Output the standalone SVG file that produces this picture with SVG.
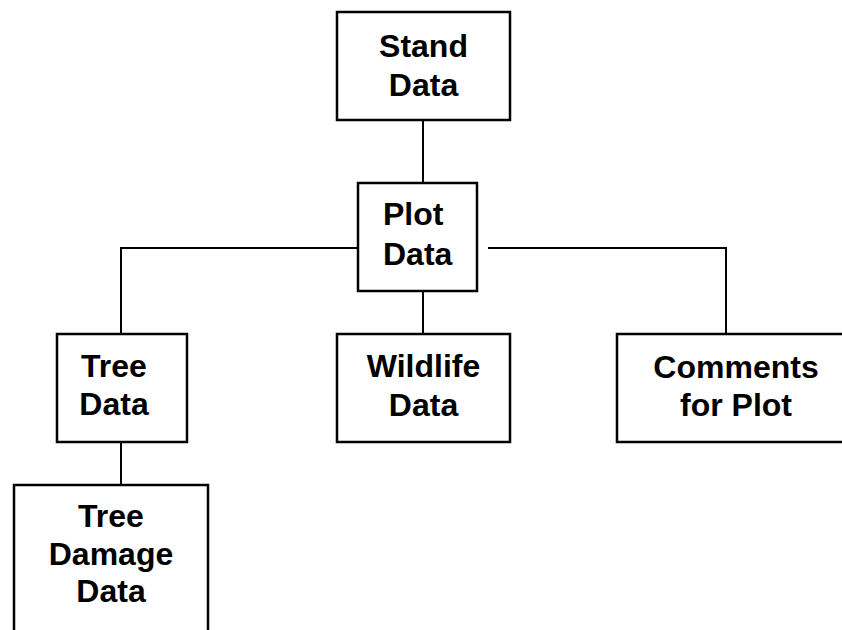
<svg xmlns="http://www.w3.org/2000/svg" width="842" height="630" viewBox="0 0 842 630">
<style>
.box{fill:#fff;stroke:#000;stroke-width:2.5}
.lbl{font-family:"Liberation Sans",Arial,sans-serif;font-weight:bold;font-size:32px;fill:#000;text-anchor:middle}
.conn{stroke:#000;stroke-width:2;fill:none}
</style>
<rect width="842" height="630" fill="#fff"/>
<g id="connectors">
<line class="conn" x1="423" y1="120" x2="423" y2="183"/>
<polyline class="conn" points="358,248 121,248 121,334"/>
<polyline class="conn" points="488,248 726,248 726,334"/>
<line class="conn" x1="423" y1="291" x2="423" y2="334"/>
<line class="conn" x1="121" y1="442" x2="121" y2="485"/>
</g>
<g id="stand">
<rect class="box" x="337" y="12" width="173" height="108"/>
<text class="lbl" x="423.5" y="57">Stand</text>
<text class="lbl" x="423.5" y="96">Data</text>
</g>
<g id="plot">
<rect class="box" x="358" y="183" width="119" height="108"/>
<text class="lbl" x="383" y="225" style="text-anchor:start">Plot</text>
<text class="lbl" x="383" y="265" style="text-anchor:start">Data</text>
</g>
<g id="tree">
<rect class="box" x="57" y="334" width="130" height="108"/>
<text class="lbl" x="114" y="377">Tree</text>
<text class="lbl" x="114" y="415">Data</text>
</g>
<g id="wildlife">
<rect class="box" x="337" y="334" width="173" height="108"/>
<text class="lbl" x="423.5" y="377">Wildlife</text>
<text class="lbl" x="423.5" y="416">Data</text>
</g>
<g id="comments">
<rect class="box" x="617" y="334" width="260" height="108"/>
<text class="lbl" x="736" y="378">Comments</text>
<text class="lbl" x="736" y="416">for Plot</text>
</g>
<g id="treedamage">
<rect class="box" x="14" y="485" width="194" height="180"/>
<text class="lbl" x="111" y="527">Tree</text>
<text class="lbl" x="111" y="565">Damage</text>
<text class="lbl" x="111" y="602">Data</text>
</g>
</svg>
